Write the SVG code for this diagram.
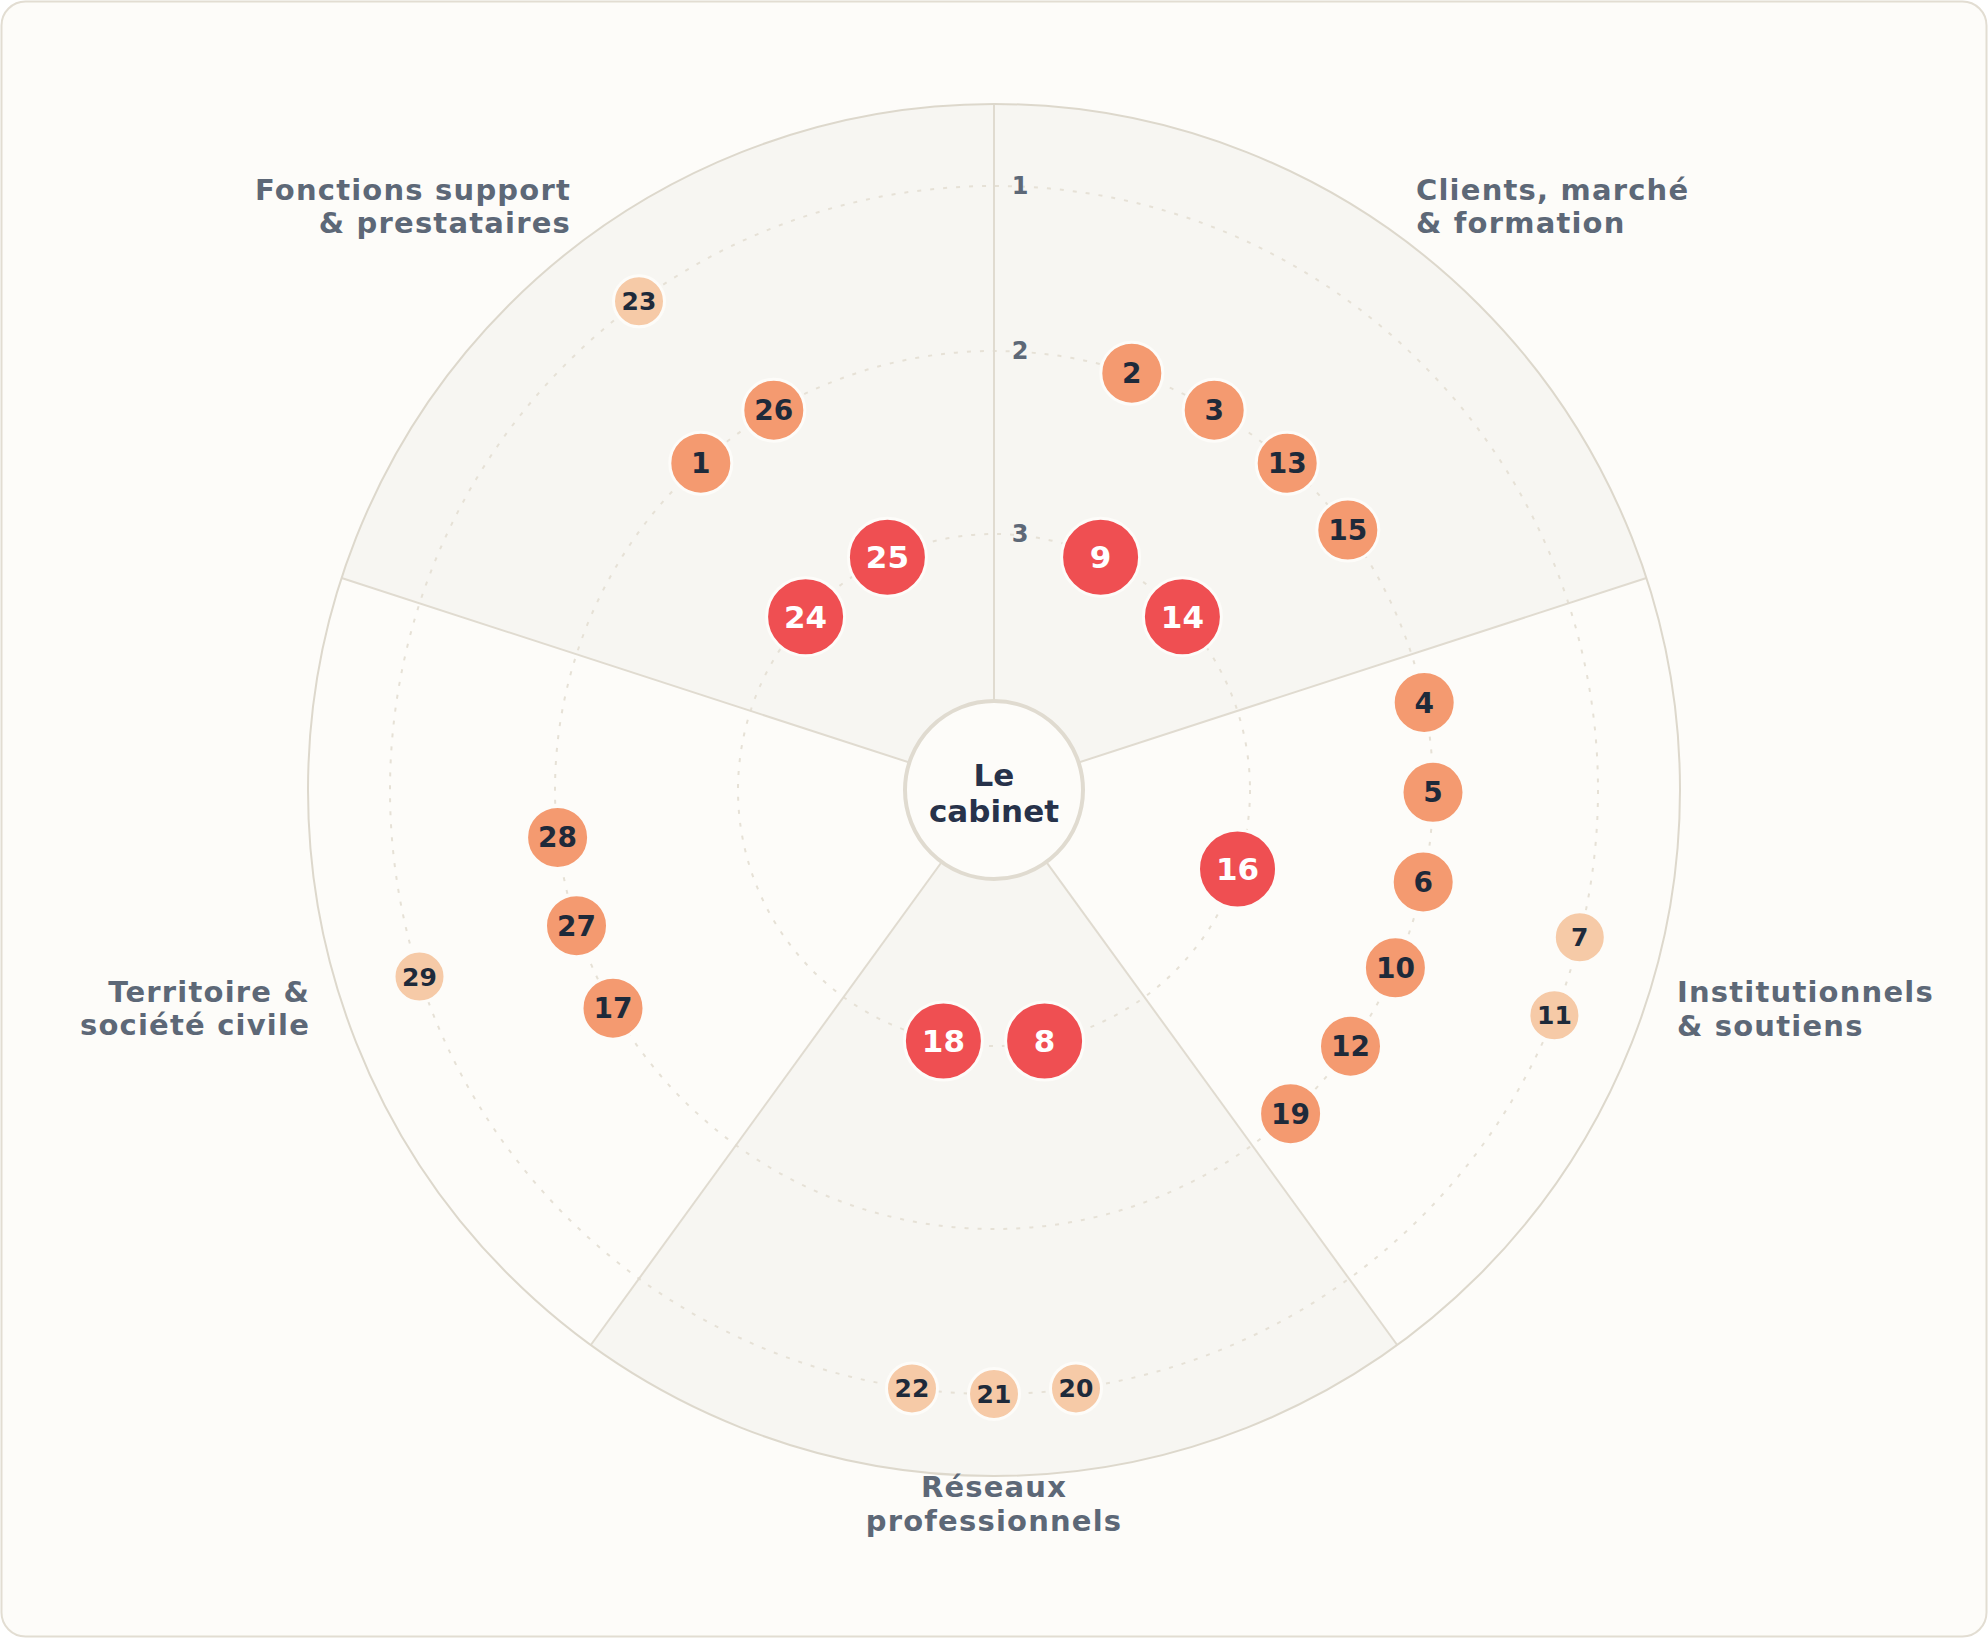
<svg xmlns="http://www.w3.org/2000/svg" width="1988" height="1638" viewBox="0 0 1988 1638">
<style>
.lbl{font-family:"DejaVu Sans",Verdana,sans-serif;font-weight:bold;font-size:29px;letter-spacing:1.2px;fill:#5d6877}
.ring{fill:none;stroke:#e6e1d6;stroke-width:2;stroke-dasharray:4 9}
.rad{stroke:#e0dbd0;stroke-width:2}
.sh{fill:#f7f6f2}
.n circle{stroke:#fdfcf9;stroke-width:3}
.n text{font-family:"DejaVu Sans",Verdana,sans-serif;font-weight:bold;text-anchor:middle}
.o circle{fill:#f49a70}
.o text{fill:#1e2a3a;font-size:28px}
.r circle{fill:#ef4f52}
.r text{fill:#ffffff;font-size:31px}
.l circle{fill:#f6caa7}
.l text{fill:#1e2a3a;font-size:25px}
.rl{font-family:"DejaVu Sans",Verdana,sans-serif;font-weight:bold;font-size:24px;fill:#5d6877;text-anchor:middle}
</style>
<rect x="1.5" y="1.5" width="1985" height="1635" rx="24" fill="#fdfcf9" stroke="#e2ddd2" stroke-width="2"/>
<g id="sectors">
<circle cx="994" cy="790" r="686" fill="#fdfcf9"/>
<path class="sh" d="M994,790 L994,104 A686,686 0 0 1 1646.4,578 Z"/>
<path class="sh" d="M994,790 L1397.2,1345 A686,686 0 0 1 590.8,1345 Z"/>
<path class="sh" d="M994,790 L341.6,578 A686,686 0 0 1 994,104 Z"/>
</g>
<g id="rings">
<circle class="ring" cx="994" cy="790" r="604"/>
<circle class="ring" cx="994" cy="790" r="439"/>
<circle class="ring" cx="994" cy="790" r="256"/>
</g>
<g id="grid">
<line class="rad" x1="994" y1="790" x2="994" y2="104"/>
<line class="rad" x1="994" y1="790" x2="1646.4" y2="578"/>
<line class="rad" x1="994" y1="790" x2="1397.2" y2="1345"/>
<line class="rad" x1="994" y1="790" x2="590.8" y2="1345"/>
<line class="rad" x1="994" y1="790" x2="341.6" y2="578"/>
<circle cx="994" cy="790" r="686" fill="none" stroke="#ddd8cc" stroke-width="2"/>
</g>
<g id="ring-labels">
<text class="rl" x="1020" y="194">1</text>
<text class="rl" x="1020" y="359">2</text>
<text class="rl" x="1020" y="542">3</text>
</g>
<g id="sector-labels">
<text class="lbl" x="1416" y="200">Clients, marché<tspan x="1416" y="233">&amp; formation</tspan></text>
<text class="lbl" x="1677" y="1002">Institutionnels<tspan x="1677" y="1036">&amp; soutiens</tspan></text>
<text class="lbl" x="994" y="1497" text-anchor="middle">Réseaux<tspan x="994" y="1531">professionnels</tspan></text>
<text class="lbl" x="310" y="1002" text-anchor="end">Territoire &amp;<tspan x="310" y="1035">société civile</tspan></text>
<text class="lbl" x="571" y="200" text-anchor="end">Fonctions support<tspan x="571" y="233">&amp; prestataires</tspan></text>
</g>
<g id="center">
<circle cx="994" cy="790" r="89" fill="#fdfcf9" stroke="#e0dbd0" stroke-width="4"/>
<text x="994" y="786" text-anchor="middle" font-family="DejaVu Sans, Verdana, sans-serif" font-weight="bold" font-size="31" fill="#27324a">Le</text>
<text x="994" y="822" text-anchor="middle" font-family="DejaVu Sans, Verdana, sans-serif" font-weight="bold" font-size="31" fill="#27324a">cabinet</text>
</g>
<g id="nodes">
<g id="n2" class="n o"><circle cx="1131.8" cy="373.2" r="31"/><text x="1131.8" y="373.2" dy=".36em">2</text></g>
<g id="n3" class="n o"><circle cx="1214.2" cy="410.2" r="31"/><text x="1214.2" y="410.2" dy=".36em">3</text></g>
<g id="n13" class="n o"><circle cx="1287.2" cy="463.2" r="31"/><text x="1287.2" y="463.2" dy=".36em">13</text></g>
<g id="n15" class="n o"><circle cx="1347.8" cy="530.1" r="31"/><text x="1347.8" y="530.1" dy=".36em">15</text></g>
<g id="n9" class="n r"><circle cx="1100.6" cy="557.2" r="39"/><text x="1100.6" y="557.2" dy=".36em">9</text></g>
<g id="n14" class="n r"><circle cx="1182.4" cy="616.7" r="39"/><text x="1182.4" y="616.7" dy=".36em">14</text></g>
<g id="n4" class="n o"><circle cx="1424.2" cy="702.5" r="31"/><text x="1424.2" y="702.5" dy=".36em">4</text></g>
<g id="n5" class="n o"><circle cx="1433" cy="792.3" r="31"/><text x="1433" y="792.3" dy=".36em">5</text></g>
<g id="n6" class="n o"><circle cx="1423.2" cy="882" r="31"/><text x="1423.2" y="882" dy=".36em">6</text></g>
<g id="n10" class="n o"><circle cx="1395.4" cy="967.8" r="31"/><text x="1395.4" y="967.8" dy=".36em">10</text></g>
<g id="n12" class="n o"><circle cx="1350.5" cy="1046.2" r="31"/><text x="1350.5" y="1046.2" dy=".36em">12</text></g>
<g id="n19" class="n o"><circle cx="1290.6" cy="1113.7" r="31"/><text x="1290.6" y="1113.7" dy=".36em">19</text></g>
<g id="n16" class="n r"><circle cx="1237.5" cy="869.1" r="39"/><text x="1237.5" y="869.1" dy=".36em">16</text></g>
<g id="n7" class="n l"><circle cx="1579.8" cy="937.2" r="25.5"/><text x="1579.8" y="937.2" dy=".36em">7</text></g>
<g id="n11" class="n l"><circle cx="1554.4" cy="1015.3" r="25.5"/><text x="1554.4" y="1015.3" dy=".36em">11</text></g>
<g id="n18" class="n r"><circle cx="943.4" cy="1041" r="39"/><text x="943.4" y="1041" dy=".36em">18</text></g>
<g id="n8" class="n r"><circle cx="1044.6" cy="1041" r="39"/><text x="1044.6" y="1041" dy=".36em">8</text></g>
<g id="n22" class="n l"><circle cx="912" cy="1388.4" r="25.5"/><text x="912" y="1388.4" dy=".36em">22</text></g>
<g id="n21" class="n l"><circle cx="994" cy="1394" r="25.5"/><text x="994" y="1394" dy=".36em">21</text></g>
<g id="n20" class="n l"><circle cx="1076" cy="1388.4" r="25.5"/><text x="1076" y="1388.4" dy=".36em">20</text></g>
<g id="n28" class="n o"><circle cx="557.6" cy="837.4" r="31"/><text x="557.6" y="837.4" dy=".36em">28</text></g>
<g id="n27" class="n o"><circle cx="576.5" cy="925.7" r="31"/><text x="576.5" y="925.7" dy=".36em">27</text></g>
<g id="n17" class="n o"><circle cx="613" cy="1008.2" r="31"/><text x="613" y="1008.2" dy=".36em">17</text></g>
<g id="n29" class="n l"><circle cx="419.5" cy="976.6" r="25.5"/><text x="419.5" y="976.6" dy=".36em">29</text></g>
<g id="n23" class="n l"><circle cx="639" cy="301.3" r="25.5"/><text x="639" y="301.3" dy=".36em">23</text></g>
<g id="n26" class="n o"><circle cx="773.8" cy="410.2" r="31"/><text x="773.8" y="410.2" dy=".36em">26</text></g>
<g id="n1" class="n o"><circle cx="700.8" cy="463.2" r="31"/><text x="700.8" y="463.2" dy=".36em">1</text></g>
<g id="n25" class="n r"><circle cx="887.4" cy="557.2" r="39"/><text x="887.4" y="557.2" dy=".36em">25</text></g>
<g id="n24" class="n r"><circle cx="805.6" cy="616.7" r="39"/><text x="805.6" y="616.7" dy=".36em">24</text></g>
</g>
</svg>
